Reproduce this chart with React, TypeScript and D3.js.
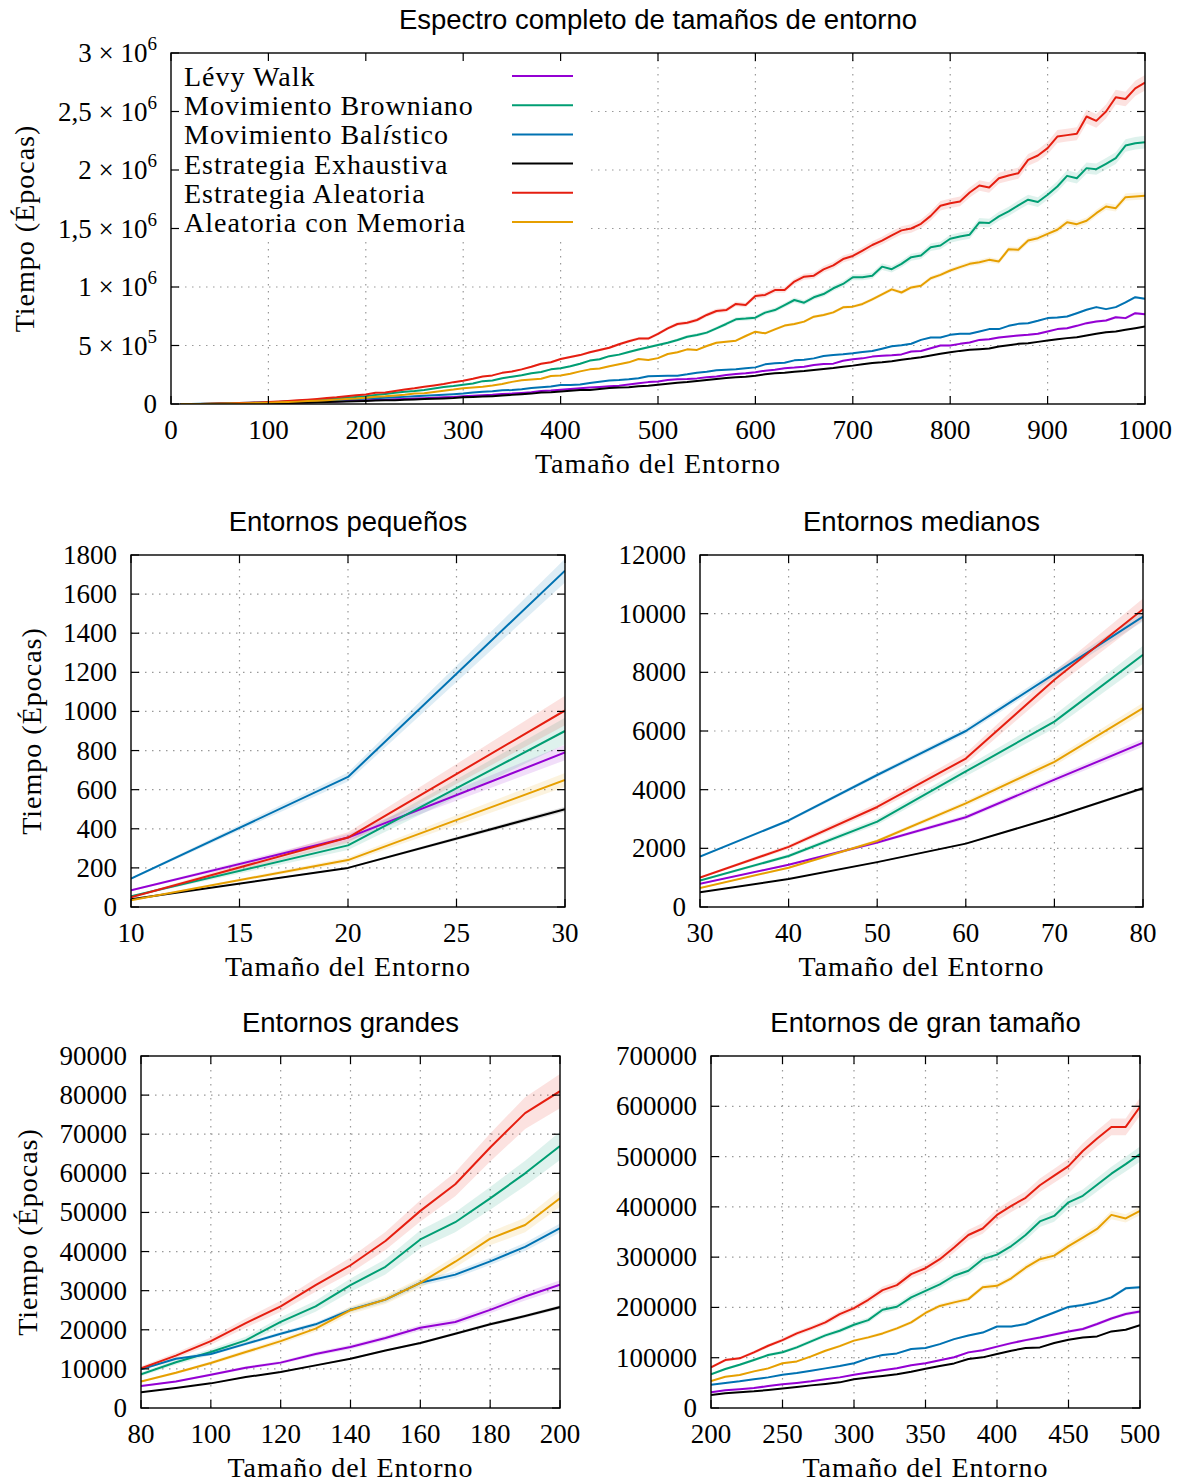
import React from 'react';
import * as d3 from 'd3';

// environment sizes (x values), every 10 from 10 to 1000
const sizes = d3.range(10, 1001, 10);

// mean time (epochs) per environment size
const levyWalk = [
  85, 355, 790, 1440, 2200, 3060, 4340, 5600, 6800, 8500, 10300, 11600, 13800, 15600, 17900, 20500, 22000, 25100, 28500, 31500,
  35100, 37100, 39700, 43700, 47000, 49700, 53000, 57000, 60900, 66000, 70500, 75000, 79000, 85000, 89000, 95000, 101000, 110600, 115000, 122000,
  129000, 135000, 140000, 146000, 152000, 157000, 167000, 178000, 187000, 192000,
  205000, 211000, 214000, 219000, 228000, 236000, 248000, 256000, 262000, 271000, 285000, 293000, 305000, 311000, 319000, 333000, 342000, 345000, 370000, 382000,
  390000, 405000, 413000, 417000, 424000, 448000, 453000, 477000, 500000, 500000, 514000, 526000, 548000, 554000, 568000, 577000, 585000, 591000, 600000, 620000,
  640000, 648000, 668000, 691000, 705000, 714000, 742000, 734000, 776000, 768000,
];
const browniano = [
  55, 315, 900, 1740, 2910, 4620, 6320, 8600, 11700, 14300, 17300, 22000, 26000, 31400, 36100, 43100, 47500, 53600, 60000, 67000,
  77500, 86100, 95400, 105300, 111000, 120500, 132500, 144400, 153600, 165500, 174800, 195400, 201300, 219900, 233000, 246000, 263000, 273000, 296000, 305000,
  322000, 344000, 371000, 382000, 409000, 422000, 444000, 466000, 485000, 505000,
  524000, 547000, 575000, 590000, 610000, 647000, 684000, 724000, 730000, 738000, 781000, 803000, 846000, 889000, 866000, 912000, 940000, 989000, 1026000, 1083000,
  1083000, 1097000, 1174000, 1152000, 1198000, 1255000, 1269000, 1340000, 1355000, 1412000, 1432000, 1447000, 1552000, 1547000, 1604000, 1647000, 1698000, 1746000, 1726000, 1788000,
  1859000, 1950000, 1930000, 2016000, 2007000, 2053000, 2101000, 2209000, 2229000, 2238000,
];
const balistico = [
  145, 665, 1720, 2950, 4500, 6000, 7950, 9900, 12600, 13800, 16400, 19000, 21400, 25100, 27700, 32000, 34100, 37500, 41200, 46000,
  49700, 53000, 57000, 60900, 66300, 69500, 74200, 78800, 83400, 89000, 98700, 105300, 108600, 117200, 119500, 127000, 137000, 144000, 150000, 162000,
  162000, 167000, 179000, 190000, 201000, 205000, 211000, 220000, 238000, 240000,
  241000, 242000, 254000, 268000, 276000, 288000, 293000, 296000, 305000, 313000, 339000, 348000, 353000, 373000, 379000, 390000, 410000, 419000, 425000, 433000,
  444000, 453000, 473000, 494000, 503000, 515000, 548000, 568000, 568000, 591000, 600000, 600000, 620000, 640000, 640000, 668000, 685000, 691000, 711000, 734000,
  739000, 748000, 776000, 805000, 828000, 811000, 828000, 868000, 913000, 899000,
];
const exhaustiva = [
  40, 200, 500, 955, 1530, 2160, 3060, 4050, 5100, 6300, 7900, 9200, 10900, 12600, 14700, 16600, 19000, 21400, 23500, 25800,
  29100, 31100, 33100, 35800, 39000, 41700, 45000, 47700, 51000, 57000, 60500, 63500, 67000, 72000, 78000, 83400, 88700, 97400, 100700, 107300,
  113900, 119200, 120500, 129100, 135800, 140400, 142400, 152300, 155600, 164900,
  174000, 182000, 188000, 197000, 205000, 214000, 222000, 228000, 233000, 242000, 254000, 262000, 268000, 276000, 282000, 291000, 299000, 308000, 319000, 328000,
  339000, 350000, 356000, 365000, 378000, 388000, 400000, 414000, 429000, 443000, 454000, 463000, 468000, 474000, 491000, 503000, 514000, 520000, 531000, 543000,
  554000, 563000, 571000, 585000, 600000, 614000, 620000, 634000, 648000, 662000,
];
const aleatoria = [
  50, 355, 1005, 2050, 3410, 5060, 7750, 10150, 13400, 17100, 21700, 26000, 31400, 36500, 42700, 50400, 57200, 66600, 75400, 81000,
  95400, 98700, 110600, 123800, 135100, 148300, 158900, 170200, 186800, 198700, 215200, 234400, 244400, 266200, 278000, 296000, 319000, 344000, 357000, 384000,
  402000, 418000, 443000, 462000, 481000, 511000, 536000, 559000, 559000, 599000,
  647000, 684000, 695000, 718000, 761000, 795000, 803000, 855000, 846000, 923000, 932000, 974000, 974000, 1046000, 1088000, 1097000, 1151000, 1185000, 1239000, 1265000,
  1311000, 1359000, 1396000, 1442000, 1484000, 1500000, 1540000, 1608000, 1694000, 1716000, 1731000, 1808000, 1868000, 1851000, 1930000, 1953000, 1973000, 2087000, 2124000, 2187000,
  2286000, 2298000, 2309000, 2457000, 2420000, 2500000, 2622000, 2607000, 2698000, 2746000,
];
const conMemoria = [
  35, 240, 650, 1340, 2250, 3530, 4950, 6780, 9000, 11500, 14300, 17100, 20300, 25000, 27700, 32000, 37400, 43300, 46800, 53600,
  62300, 65600, 72800, 78800, 89000, 92700, 102600, 113900, 123000, 134000, 140400, 148300, 158300, 170200, 189000, 203000, 210000, 216500, 240000, 243000,
  258000, 279000, 296000, 303000, 322000, 339000, 356000, 384000, 377000, 392000,
  427000, 442000, 467000, 462000, 496000, 524000, 533000, 541000, 581000, 618000, 604000, 638000, 670000, 684000, 704000, 746000, 761000, 783000, 826000, 832000,
  855000, 895000, 937000, 980000, 953000, 996000, 1010000, 1075000, 1104000, 1141000, 1170000, 1198000, 1212000, 1232000, 1218000, 1323000, 1318000, 1397000, 1417000, 1454000,
  1489000, 1554000, 1537000, 1566000, 1631000, 1688000, 1674000, 1768000, 1774000, 1779000,
];

const seriesNames = ['Lévy Walk', 'Movimiento Browniano', 'Movimiento Balístico', 'Estrategia Exhaustiva', 'Estrategia Aleatoria', 'Aleatoria con Memoria'];
const seriesValues = [levyWalk, browniano, balistico, exhaustiva, aleatoria, conMemoria];
const seriesColors = ['#9400d3', '#009e73', '#0072b2', '#000000', '#e51e10', '#e69f00'];
// relative half width of the shaded band around each mean
const ciRel = [0.02, 0.03, 0.014, 0.01, 0.03, 0.022];

// tick labels of the full-range chart
const topYTicks = [0, 500000, 1000000, 1500000, 2000000, 2500000, 3000000];
const topYMant = ['0', '5', '1', '1,5', '2', '2,5', '3'];
const topYExp = ['', '5', '6', '6', '6', '6', '6'];

const SERIF = '"Liberation Serif", "Times New Roman", serif';
const SANS = '"Liberation Sans", Arial, sans-serif';

interface Panel {
  id: string;
  title: string;
  left: number; right: number; top: number; bottom: number;
  xDomain: [number, number];
  yMax: number;
  xTicks: number[];
  yTicks: number[];
  yLabelX?: number;
  legend?: boolean;
  sci?: boolean;
  band: number;
}

const panels: Panel[] = [
  { id: 'all', title: 'Espectro completo de tamaños de entorno', left: 171, right: 1145, top: 53, bottom: 404,
    xDomain: [0, 1000], yMax: 3000000, xTicks: d3.range(0, 1001, 100), yTicks: topYTicks, yLabelX: 24, legend: true, sci: true, band: 0.8 },
  { id: 'small', title: 'Entornos pequeños', left: 131, right: 565, top: 555, bottom: 907,
    xDomain: [10, 30], yMax: 1800, xTicks: d3.range(10, 31, 5), yTicks: d3.range(0, 1801, 200), yLabelX: 31, band: 2.5 },
  { id: 'medium', title: 'Entornos medianos', left: 700, right: 1143, top: 555, bottom: 907,
    xDomain: [30, 80], yMax: 12000, xTicks: d3.range(30, 81, 10), yTicks: d3.range(0, 12001, 2000), band: 1.2 },
  { id: 'large', title: 'Entornos grandes', left: 141, right: 560, top: 1056, bottom: 1408,
    xDomain: [80, 200], yMax: 90000, xTicks: d3.range(80, 201, 20), yTicks: d3.range(0, 90001, 10000), yLabelX: 27, band: 1.8 },
  { id: 'xlarge', title: 'Entornos de gran tamaño', left: 711, right: 1140, top: 1056, bottom: 1408,
    xDomain: [200, 500], yMax: 700000, xTicks: d3.range(200, 501, 50), yTicks: d3.range(0, 700001, 100000), band: 1 },
];

function Label({ name }: { name: string }) {
  // the í of Balístico is set in italic in the original
  const parts = name.split('í');
  if (parts.length === 1) return <>{name}</>;
  return <>{parts[0]}<tspan fontStyle="italic">í</tspan>{parts[1]}</>;
}

function Chart({ p }: { p: Panel }) {
  const x = d3.scaleLinear().domain(p.xDomain).range([p.left, p.right]);
  const y = d3.scaleLinear().domain([0, p.yMax]).range([p.bottom, p.top]);
  const idx = sizes.map((s, i) => i).filter(i => sizes[i] >= p.xDomain[0] && sizes[i] <= p.xDomain[1]);
  const tick = 8;
  const grid = '#999';

  return (
    <g>
      <defs>
        <clipPath id={`clip-${p.id}`}>
          <rect x={p.left} y={p.top} width={p.right - p.left} height={p.bottom - p.top} />
        </clipPath>
      </defs>
      {/* grid */}
      {p.xTicks.filter(t => t !== p.xDomain[0] && t !== p.xDomain[1]).map(t => (
        <line key={'gx' + t} x1={x(t)} x2={x(t)} y1={p.top} y2={p.bottom} stroke={grid} strokeWidth={1.2} strokeDasharray="1.5,5.5" />
      ))}
      {p.yTicks.filter(t => t !== 0 && t !== p.yMax).map(t => (
        <line key={'gy' + t} x1={p.left} x2={p.right} y1={y(t)} y2={y(t)} stroke={grid} strokeWidth={1.2} strokeDasharray="1.5,5.5" />
      ))}
      {p.legend ? <rect x={p.left + 1} y={p.top + 1} width={414} height={183} fill="#fff" /> : null}

      <g clipPath={`url(#clip-${p.id})`}>
        {seriesValues.map((vals, k) => {
          const e = ciRel[k] * p.band;
          const area = d3.area<number>()
            .x(i => x(sizes[i]))
            .y0(i => y(vals[i] * (1 - e)))
            .y1(i => y(vals[i] * (1 + e)));
          return <path key={'b' + k} d={area(idx) ?? ''} fill={seriesColors[k]} fillOpacity={0.13} stroke="none" />;
        })}
        {seriesValues.map((vals, k) => {
          const ln = d3.line<number>().x(i => x(sizes[i])).y(i => y(vals[i]));
          return <path key={'l' + k} d={ln(idx) ?? ''} fill="none" stroke={seriesColors[k]} strokeWidth={2} strokeLinejoin="round" />;
        })}
      </g>

      {/* ticks on all four sides */}
      {p.xTicks.map(t => (
        <g key={'tx' + t}>
          <line x1={x(t)} x2={x(t)} y1={p.bottom} y2={p.bottom - tick} stroke="#000" strokeWidth={1.2} />
          <line x1={x(t)} x2={x(t)} y1={p.top} y2={p.top + tick} stroke="#000" strokeWidth={1.2} />
          <text x={x(t)} y={p.bottom + 35} textAnchor="middle" fontFamily={SERIF} fontSize={27}>{t}</text>
        </g>
      ))}
      {p.yTicks.map((t, j) => (
        <g key={'ty' + t}>
          <line x1={p.left} x2={p.left + tick} y1={y(t)} y2={y(t)} stroke="#000" strokeWidth={1.2} />
          <line x1={p.right} x2={p.right - tick} y1={y(t)} y2={y(t)} stroke="#000" strokeWidth={1.2} />
          {p.sci ? (
            <text x={p.left - 14} y={y(t) + 9} textAnchor="end" fontFamily={SERIF} fontSize={27}>
              {topYExp[j] === '' ? topYMant[j] : <>{topYMant[j]} × 10<tspan dy={-12} fontSize={19}>{topYExp[j]}</tspan></>}
            </text>
          ) : (
            <text x={p.left - 14} y={y(t) + 9} textAnchor="end" fontFamily={SERIF} fontSize={27}>{d3.format('d')(t)}</text>
          )}
        </g>
      ))}
      <rect x={p.left} y={p.top} width={p.right - p.left} height={p.bottom - p.top} fill="none" stroke="#000" strokeWidth={1.4} />

      {/* titles */}
      <text x={(p.left + p.right) / 2} y={p.top - 24} textAnchor="middle" fontFamily={SANS} fontSize={27.5}>{p.title}</text>
      <text x={(p.left + p.right) / 2} y={p.bottom + 69} textAnchor="middle" fontFamily={SERIF} fontSize={28} letterSpacing={1}>Tamaño del Entorno</text>
      {p.yLabelX !== undefined ? (
        <text transform={`translate(${p.yLabelX + 10},${(p.top + p.bottom) / 2}) rotate(-90)`} textAnchor="middle"
          fontFamily={SERIF} fontSize={28} letterSpacing={1}>Tiempo (Épocas)</text>
      ) : null}

      {p.legend ? seriesNames.map((name, k) => {
        const ry = p.top + 23 + k * 29.2;
        return (
          <g key={'lg' + k}>
            <text x={p.left + 13} y={ry + 10} fontFamily={SERIF} fontSize={28} letterSpacing={1}><Label name={name} /></text>
            <line x1={p.left + 341} x2={p.left + 402} y1={ry} y2={ry} stroke={seriesColors[k]} strokeWidth={2} />
          </g>
        );
      }) : null}
    </g>
  );
}

export default function App() {
  return (
    <svg width={1181} height={1484} style={{ position: 'absolute', left: 0, top: 0, background: '#fff' }}>
      <rect width={1181} height={1484} fill="#fff" />
      {panels.map(p => <Chart key={p.id} p={p} />)}
    </svg>
  );
}
